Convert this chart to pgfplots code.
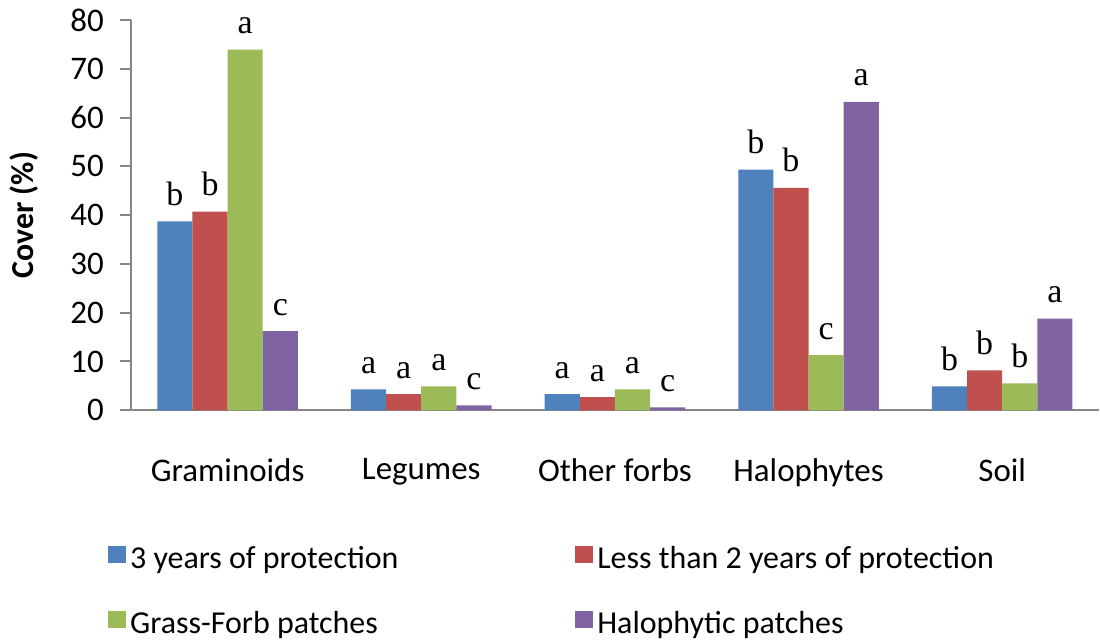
\documentclass[border=0pt]{standalone}
\usepackage{fontspec}
\setmainfont{Carlito}
\newfontfamily\serifletters{Liberation Serif}
\usepackage{pgfplots}
\pgfplotsset{compat=1.18}
\definecolor{cblue}{HTML}{4F81BD}
\definecolor{cred}{HTML}{C0504D}
\definecolor{cgreen}{HTML}{9BBB59}
\definecolor{cpurple}{HTML}{8064A2}
\definecolor{axgray}{HTML}{868686}
\begin{document}
\begin{tikzpicture}
\begin{axis}[
  scale only axis,
  width=485pt, height=195.5pt,
  ybar=0pt, bar width=17.6pt,
  xmin=-0.5, xmax=4.5,
  ymin=0, ymax=80,
  ytick={0,10,...,80},
  xtick={0,1,2,3,4},
  xticklabels={Graminoids,Legumes,Other forbs,Halophytes,Soil},
  minor xtick={-0.5,0.5,1.5,2.5,3.5,4.5},
  axis x line*=bottom, axis y line*=left,
  axis line style={axgray, line width=1pt, -},
  tick align=outside,
  major tick length=5.5pt, minor tick length=5.5pt,
  every tick/.style={axgray, line width=1pt},
  xtick style={draw=none},
  minor x tick style={axgray, line width=1pt},
  tick label style={font=\fontsize{16.5}{19}\selectfont},
  /pgf/number format/assume math mode=true,
  xticklabel style={yshift=-15pt},
  yticklabel style={xshift=-4.5pt},
  ylabel={\bfseries Cover (\%)},
  ylabel style={font=\fontsize{16}{19}\selectfont, yshift=9pt},
  point meta=explicit symbolic,
  nodes near coords,
  every node near coord/.append style={font=\serifletters\fontsize{17}{20}\selectfont, anchor=base, yshift=8pt, text=black},
  legend columns=2,
  legend cell align=left,
  legend image code/.code={\fill[#1] (0pt,-2pt) rectangle (9pt,6.5pt);},
  legend style={draw=none, font=\fontsize{16}{19}\selectfont, at={(0,0)}, anchor=north west, xshift=-11.5pt, yshift=-66pt, row sep=16pt, inner sep=0pt},
]
\addplot[fill=cblue, draw=none] coordinates {(0,38.7)[b] (1,4.3)[a] (2,3.3)[a] (3,49.3)[b] (4,4.9)[b]};
\addlegendentry{\makebox[221pt][l]{3 years of protection}}
\addplot[fill=cred, draw=none] coordinates {(0,40.7)[b] (1,3.3)[a] (2,2.7)[a] (3,45.6)[b] (4,8.2)[b]};
\addlegendentry{Less than 2 years of protection}
\addplot[fill=cgreen, draw=none] coordinates {(0,73.9)[a] (1,4.9)[a] (2,4.3)[a] (3,11.3)[c] (4,5.5)[b]};
\addlegendentry{\makebox[221pt][l]{Grass-Forb patches}}
\addplot[fill=cpurple, draw=none] coordinates {(0,16.2)[c] (1,1.0)[c] (2,0.6)[c] (3,63.2)[a] (4,18.8)[a]};
\addlegendentry{Halophytic patches}
\end{axis}
\path (-65.5pt,-114.5pt) rectangle (485pt,205.5pt);
\end{tikzpicture}
\end{document}
